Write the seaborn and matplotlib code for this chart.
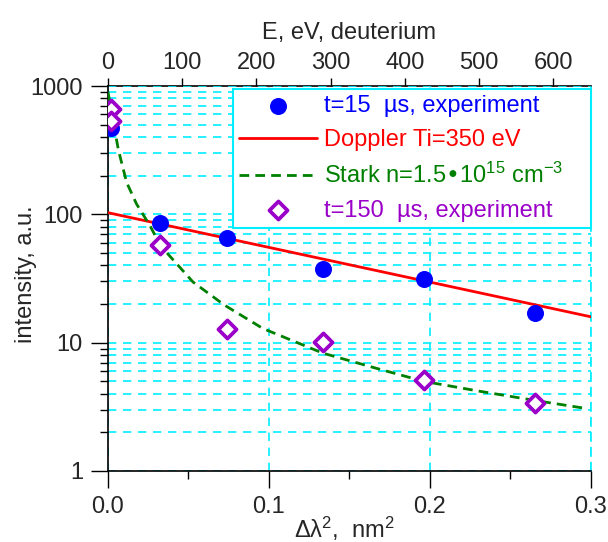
import seaborn as sns
import matplotlib.pyplot as plt
from matplotlib.ticker import FixedLocator, LogLocator, NullFormatter, FuncFormatter, FormatStrFormatter

# t=15 us, experiment
x_early = [0.002, 0.0326, 0.0741, 0.1333, 0.196, 0.265]
y_early = [474, 86, 65.8, 37.7, 31.5, 17.1]

# t=150 us, experiment
x_late = [0.002, 0.002, 0.0326, 0.0741, 0.1333, 0.196, 0.265]
y_late = [660, 535, 57.4, 12.7, 10.1, 5.12, 3.37]

# Doppler Ti=350 eV fit (straight line on log axis)
x_doppler = [0.0, 0.3]
y_doppler = [103, 15.9]

# Stark fit
x_stark = [0.0, 0.0064, 0.0116, 0.0178, 0.026, 0.0326, 0.0528, 0.0724, 0.0962,
           0.1333, 0.165, 0.196, 0.23, 0.265, 0.297]
y_stark = [900, 320, 177, 120, 82, 57, 29.7, 19.6, 12.9,
           8.3, 6.4, 5.0, 4.2, 3.55, 3.07]

x_ticks = [0.0, 0.1, 0.2, 0.3]
e_ticks = [0, 100, 200, 300, 400, 500, 600]
ev_per_nm2 = 2170  # top axis scale: E = k * dlambda^2

blue = "#0000ff"
red = "#ff0000"
green = "#008000"
purple = "#9a00c8"
cyan = "#00eeff"
fs = 17

sns.set_theme(style="ticks")
plt.rcParams["font.family"] = ["Liberation Sans", "DejaVu Sans"]
plt.rcParams["mathtext.default"] = "regular"

fig = plt.figure(figsize=(6.08, 5.42), dpi=100)
ax = fig.add_axes([0.1776, 0.131, 0.7944, 0.7103])

sns.lineplot(x=x_doppler, y=y_doppler, color=red, lw=2, ax=ax,
             label="Doppler Ti=350 eV", zorder=3)
sns.lineplot(x=x_stark, y=y_stark, color=green, lw=2, ls=(0, (3.5, 2.2)), ax=ax,
             label="Stark n=1.5\u202210$^{15}$ cm$^{-3}$", zorder=3)
sns.scatterplot(x=x_early, y=y_early, color=blue, marker="o", s=150,
                edgecolor=blue, linewidth=0, ax=ax,
                label="t=15  \u00b5s, experiment", zorder=4)
sns.scatterplot(x=x_late, y=y_late, marker="D", s=85, facecolor="white",
                edgecolor=purple, linewidth=2.7, ax=ax,
                label="t=150  \u00b5s, experiment", zorder=5)

ax.set_yscale("log")
ax.set_ylim(1, 1000)
ax.set_xlim(0, 0.3)

ax.xaxis.set_major_locator(FixedLocator(x_ticks))
ax.xaxis.set_minor_locator(FixedLocator([0.05, 0.15, 0.25]))
ax.xaxis.set_major_formatter(FormatStrFormatter("%.1f"))
ax.yaxis.set_major_locator(LogLocator(base=10))
ax.yaxis.set_minor_locator(LogLocator(base=10, subs=range(2, 10)))
ax.yaxis.set_major_formatter(FuncFormatter(lambda v, p: f"{v:g}"))
ax.yaxis.set_minor_formatter(NullFormatter())

ax.tick_params(axis="both", which="major", direction="out", length=12, width=1,
               labelsize=fs, color="black", pad=6)
ax.tick_params(axis="both", which="minor", direction="out", length=6, width=1,
               color="black")
ax.tick_params(top=False, right=False, which="both")

ax.set_axisbelow(True)
grid_ls = (0, (5, 4))
ax.grid(True, which="both", axis="y", color=cyan, ls=grid_ls, lw=1.2)
ax.grid(True, which="major", axis="x", color=cyan, ls=grid_ls, lw=1.2)

for side in ["left", "bottom"]:
    ax.spines[side].set_color("black")
    ax.spines[side].set_linewidth(1.2)
ax.spines["top"].set_visible(False)
ax.spines["right"].set_color(cyan)
ax.spines["right"].set_linestyle(grid_ls)
ax.spines["right"].set_linewidth(1.2)

ax.set_xlabel("\u0394\u03bb$^2$,  nm$^2$", fontsize=fs)
ax.xaxis.set_label_coords(0.49, -0.115)
ax.set_ylabel("intensity, a.u.", fontsize=fs)
ax.yaxis.set_label_coords(-0.147, 0.51)

top = ax.secondary_xaxis("top", functions=(lambda x: x * ev_per_nm2,
                                           lambda e: e / ev_per_nm2))
top.set_xticks(e_ticks)
top.tick_params(direction="out", length=6, width=1, labelsize=fs, pad=3,
                color="black")
top.spines["top"].set_color("black")
top.spines["top"].set_linewidth(1.2)
top.set_xlabel("E, eV, deuterium", fontsize=fs, labelpad=9)

handles, labels = ax.get_legend_handles_labels()
order = ["t=15  \u00b5s, experiment", "Doppler Ti=350 eV",
         "Stark n=1.5\u202210$^{15}$ cm$^{-3}$", "t=150  \u00b5s, experiment"]
hmap = dict(zip(labels, handles))
leg = ax.legend([hmap[k] for k in order], order, loc="upper left",
                bbox_to_anchor=(0.259, 0.639, 0.741, 0.353), mode="expand",
                fontsize=fs, frameon=True, fancybox=False, framealpha=1,
                edgecolor=cyan, handlelength=3.3, handletextpad=0.3,
                labelspacing=0.5, borderaxespad=0, borderpad=0.25,
                scatterpoints=1)
leg.get_frame().set_linewidth(1.5)
for txt, col in zip(leg.get_texts(), [blue, red, green, purple]):
    txt.set_color(col)

fig.savefig("out.png", dpi=100)
